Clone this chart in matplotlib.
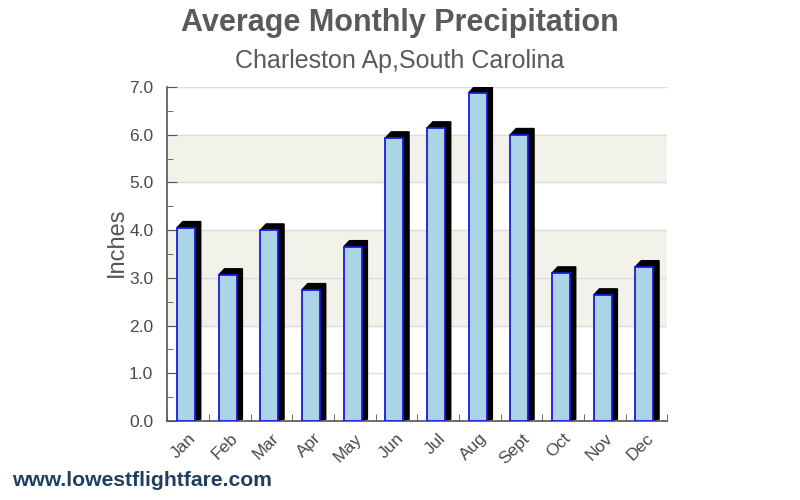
import numpy as np
import matplotlib.pyplot as plt
from matplotlib.ticker import MultipleLocator

plt.rcParams['font.family'] = ['Liberation Sans', 'DejaVu Sans']

# datos
meses = ['Jan', 'Feb', 'Mar', 'Apr', 'May', 'Jun', 'Jul', 'Aug', 'Sept', 'Oct', 'Nov', 'Dec']
lluvia = [4.05, 3.06, 4.00, 2.75, 3.65, 5.93, 6.14, 6.88, 6.00, 3.10, 2.64, 3.23]
titulo = 'Average Monthly Precipitation'
subtitulo = 'Charleston Ap,South Carolina'
web = 'www.lowestflightfare.com'

fig = plt.figure(figsize=(8, 5), dpi=100)
ax = fig.add_axes([0.209, 0.158, 0.625, 0.668])

# bandas de fondo
for a, b in [(5, 6), (2, 4)]:
    ax.axhspan(a, b, color='#f3f2ea', zorder=0)
for yv in range(1, 8):
    ax.axhline(yv, color='#dcdcdc', linewidth=1, zorder=0.5)

# barras con efecto 3D
ancho = 0.43
dx, dy = 0.14, 0.13
x = np.arange(len(meses))
for xi, v in zip(x, lluvia):
    x0 = xi - ancho / 2 - 0.05
    x1 = x0 + ancho
    ax.fill([x0, x0 + dx, x1 + dx, x1 + dx, x1, x1],
            [v, v + dy, v + dy, 0.04, 0, v], color='black', zorder=2)
    ax.bar(x0, v, width=ancho, align='edge', color='#abd5e6',
           edgecolor='#1a1ae0', linewidth=1.3, zorder=3)

ax.set_xlim(-0.5, 11.5)
ax.set_ylim(0, 7)
ax.yaxis.set_major_locator(MultipleLocator(1))
ax.yaxis.set_minor_locator(MultipleLocator(0.5))
ax.set_yticklabels([f'{t:.1f}' for t in ax.get_yticks()])

ax.set_xticks(x)
ax.set_xticklabels(meses, rotation=45, ha='right', rotation_mode='anchor',
                   fontsize=12.5, color='#4a4a4a')
ax.set_xticks(np.arange(-0.5, 12, 1), minor=True)
ax.tick_params(axis='x', which='major', length=0, pad=7)
ax.tick_params(axis='x', which='minor', direction='in', length=5, color='#555555')
ax.tick_params(axis='y', which='major', direction='in', length=7, color='#555555',
               labelsize=12.5, labelcolor='#4a4a4a', pad=10)
ax.tick_params(axis='y', which='minor', direction='in', length=4, color='#555555')

for s in ['top', 'right']:
    ax.spines[s].set_visible(False)
for s in ['left', 'bottom']:
    ax.spines[s].set_color('#555555')
    ax.spines[s].set_linewidth(1.2)

ax.set_ylabel('Inches', fontsize=17, color='#555555', labelpad=1)
ax.yaxis.set_label_coords(-0.078, 0.535)

fig.text(0.5, 0.953, titulo, ha='center', va='center', fontsize=22,
         fontweight='bold', color='#5a5a5a')
fig.text(0.5, 0.878, subtitulo, ha='center', va='center', fontsize=18,
         color='#5a5a5a')
fig.text(0.015, 0.04, web, ha='left', va='center', fontsize=15.2,
         fontweight='bold', color='#1f3f5f')

fig.savefig('out.png', dpi=100)
